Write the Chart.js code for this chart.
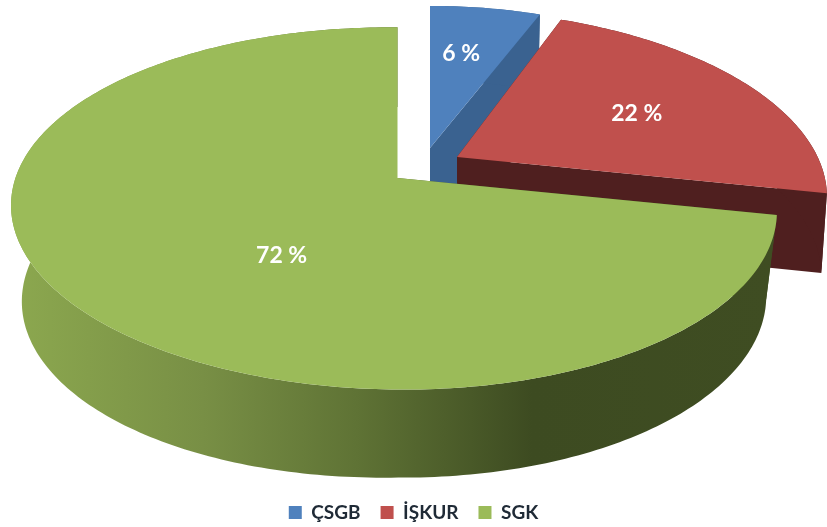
<!DOCTYPE html>
<html>
<head>
<meta charset="utf-8">
<script src="https://cdn.jsdelivr.net/npm/chart.js@4"></script>
<style>
    body { margin: 0; background: #ffffff; }
</style>
</head>
<body>
<canvas id="chart" width="827" height="527"></canvas>
<script>
var categories = ['ÇSGB', 'İŞKUR', 'SGK'];
var values = [6, 22, 72];
var labels = ['6 %', '22 %', '72 %'];

var top_colors = ['#4f81bd', '#c0504d', '#9bbb59'];
var side_colors = ['#3a6290', '#4f1f1f', null];

// how each exploded slice sits in the tilted view (perspective k is shared)
var k = -0.168;
var k_low = -0.05;
var left_drop = 12;
var views = [
    {x0: 430, y0: 148, a: 345, a_left: 345, s: 0, b: 166, t: 0, depth: 79, shrink: 0.985, label: [0.10, -0.63]},
    {x0: 457, y0: 157, a: 362, a_left: 362, s: 14, b: 172, t: 3, depth: 79, shrink: 0.985, label: [0.53, -0.275]},
    {x0: 397.5, y0: 178, a: 374, a_left: 381, s: 0, b: 176, t: 3, depth: 83.6, shrink: 0.972, label: [-0.283, 0.415]}
];

function project(view, u, v, lower) {
    var w = 1 + k * v;
    var px = ((u < 0 ? view.a_left : view.a) * u + view.s * v) / w;
    var py = (view.b * v + view.t * u) / w;
    if (lower) {
        var drop = u < 0 ? -u * left_drop : 0;
        return [view.x0 + px * view.shrink, view.y0 + py + drop + view.depth / (1 + k_low * v)];
    }
    return [view.x0 + px, view.y0 + py];
}

function rimPoints(view, start, end, lower) {
    var pts = [];
    var steps = Math.ceil((end - start) * 60);
    for (var i = 0; i <= steps; i++) {
        var angle = start + (end - start) * i / steps;
        pts.push(project(view, Math.cos(angle), Math.sin(angle), lower));
    }
    return pts;
}

function fillPath(c, pts, color) {
    c.beginPath();
    c.moveTo(pts[0][0], pts[0][1]);
    for (var i = 1; i < pts.length; i++)
        c.lineTo(pts[i][0], pts[i][1]);
    c.closePath();
    c.fillStyle = color;
    c.fill();
}

function greenSide(c) {
    var g = c.createLinearGradient(12, 0, 777, 0);
    g.addColorStop(0, '#8ca84f');
    g.addColorStop(0.25, '#788f45');
    g.addColorStop(0.45, '#5f7335');
    g.addColorStop(0.68, '#3d4b21');
    g.addColorStop(1, '#3f4d22');
    return g;
}

var pie3d = {
    id: 'pie3d',
    beforeDatasetsDraw: function (chart) {
        var c = chart.ctx;
        var arcs = chart.getDatasetMeta(0).data;
        c.save();
        // painter's order: back slices first
        arcs.forEach(function (arc, i) {
            var view = views[i];
            var color = side_colors[i] || greenSide(c);
            var start = arc.startAngle;
            var end = arc.endAngle;
            var top_rim = rimPoints(view, start, end, false);
            var low_rim = rimPoints(view, start, end, true);
            var apex = project(view, 0, 0, false);
            var apex_low = project(view, 0, 0, true);

            fillPath(c, [apex, top_rim[0], low_rim[0], apex_low], color);
            fillPath(c, [apex, top_rim[top_rim.length - 1], low_rim[low_rim.length - 1], apex_low], color);
            fillPath(c, top_rim.concat(low_rim.slice().reverse()), color);
            fillPath(c, [apex].concat(top_rim), top_colors[i]);
        });
        c.font = 'bold 23px Lato';
        c.fillStyle = '#ffffff';
        c.textAlign = 'center';
        c.textBaseline = 'middle';
        arcs.forEach(function (arc, i) {
            var pos = project(views[i], views[i].label[0], views[i].label[1], false);
            c.fillText(labels[i], pos[0], pos[1]);
        });
        c.restore();
        return false;
    }
};

var cfg = {
    type: 'pie',
    data: {
        labels: categories,
        datasets: [{
            data: values,
            backgroundColor: top_colors,
            borderWidth: 0
        }]
    },
    options: {
        responsive: false,
        animation: false,
        layout: {padding: {bottom: -5}},
        plugins: {
            legend: {
                display: true,
                position: 'bottom',
                labels: {
                    boxWidth: 13,
                    boxHeight: 13,
                    padding: 20,
                    color: '#1f2a36',
                    font: {family: 'Lato', size: 19, weight: 'bold'}
                }
            },
            tooltip: {enabled: false}
        }
    },
    plugins: [pie3d]
};

const chart = new Chart(document.getElementById('chart'), cfg);
</script>
</body>
</html>
